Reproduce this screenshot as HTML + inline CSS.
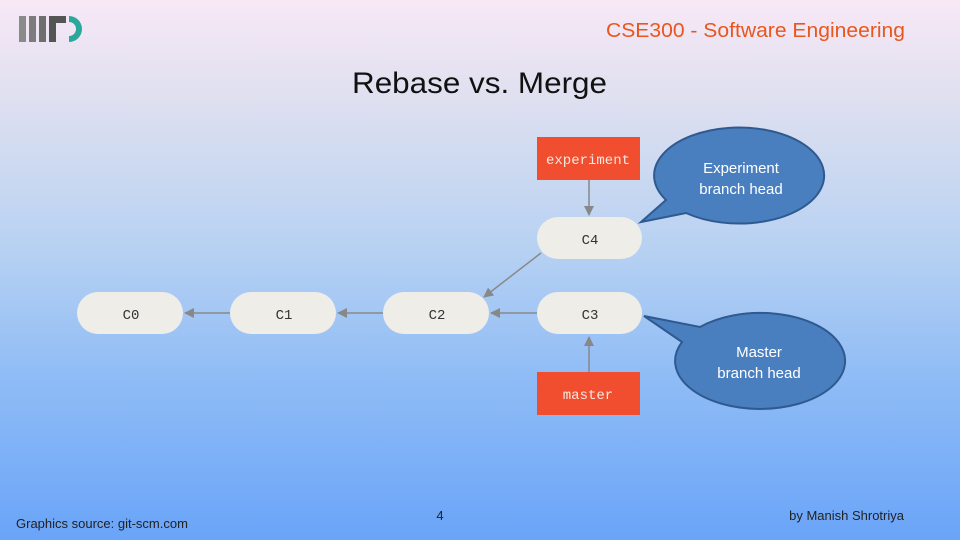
<!DOCTYPE html>
<html><head><meta charset="utf-8"><style>
html,body{margin:0;padding:0;width:960px;height:540px;overflow:hidden}
body{background:linear-gradient(to bottom,#f8e8f6 0%,#dfe0f0 18%,#b9d2f2 45%,#8fbcf6 70%,#6aa4f8 100%);font-family:"Liberation Sans",sans-serif}
</style></head><body>
<svg width="960" height="540" xmlns="http://www.w3.org/2000/svg" style="position:absolute;left:0;top:0">
<defs><marker id="a" markerWidth="10" markerHeight="10" refX="9" refY="5" orient="auto" markerUnits="userSpaceOnUse"><path d="M0,0 L10,5 L0,10 z" fill="#888"/></marker></defs>
<rect x="19" y="16" width="7" height="26" fill="#8a8a8a"/>
<rect x="29" y="16" width="7" height="26" fill="#7c7c7c"/>
<rect x="39" y="16" width="7" height="26" fill="#6e6e6e"/>
<path d="M49,16 H66 V23 H56 V42 H49 Z" fill="#555"/>
<path d="M69,16 A13,13 0 0 1 69,42 V36 A7,7 0 0 0 69,22 Z" fill="#2aa89a" transform="translate(0,0)"/>
<text x="905" y="37" text-anchor="end" font-size="20" fill="#e8571e" textLength="299" lengthAdjust="spacingAndGlyphs">CSE300 - Software Engineering</text>
<text x="352" y="93" font-size="30" fill="#111" textLength="255" lengthAdjust="spacingAndGlyphs">Rebase vs. Merge</text>
<g stroke="#888" stroke-width="1.5" fill="none" marker-end="url(#a)">
<line x1="230" y1="313" x2="185" y2="313"/>
<line x1="383" y1="313" x2="338" y2="313"/>
<line x1="537" y1="313" x2="491" y2="313"/>
<line x1="541" y1="253" x2="484" y2="297"/>
<line x1="589" y1="180" x2="589" y2="215"/>
<line x1="589" y1="372" x2="589" y2="337"/>
</g>
<g fill="#efede8">
<rect x="77" y="292" width="106" height="42" rx="21"/>
<rect x="230" y="292" width="106" height="42" rx="21"/>
<rect x="383" y="292" width="106" height="42" rx="21"/>
<rect x="537" y="292" width="105" height="42" rx="21"/>
<rect x="537" y="217" width="105" height="42" rx="21"/>
</g>
<g font-family="Liberation Mono,monospace" font-size="14" fill="#333" text-anchor="middle">
<text x="131" y="319">C0</text><text x="284" y="319">C1</text><text x="437" y="319">C2</text>
<text x="590" y="319">C3</text><text x="590" y="244">C4</text>
</g>
<rect x="537" y="137" width="103" height="43" fill="#f04e2e"/>
<rect x="537" y="372" width="103" height="43" fill="#f04e2e"/>
<g font-family="Liberation Mono,monospace" font-size="14" fill="#f5e8e0" text-anchor="middle">
<text x="588" y="164">experiment</text><text x="588" y="399">master</text>
</g>
<g fill="#4a7fbf" stroke="#2f5a8f" stroke-width="2">
<path d="M666,200 L641,222 L686,213 A85,48 0 1 0 666,200 Z"/>
<path d="M682,342 L644,316 L700,327 A85,48 0 1 1 682,342 Z"/>
</g>
<g fill="#fff" font-size="15" text-anchor="middle">
<text x="741" y="173">Experiment</text><text x="741" y="194">branch head</text>
<text x="759" y="357">Master</text><text x="759" y="378">branch head</text>
</g>
<text x="16" y="528" font-size="13" fill="#222">Graphics source: git-scm.com</text>
<text x="440" y="520" font-size="13" fill="#222" text-anchor="middle">4</text>
<text x="904" y="520" font-size="13" fill="#222" text-anchor="end">by Manish Shrotriya</text>
</svg>
</body></html>
